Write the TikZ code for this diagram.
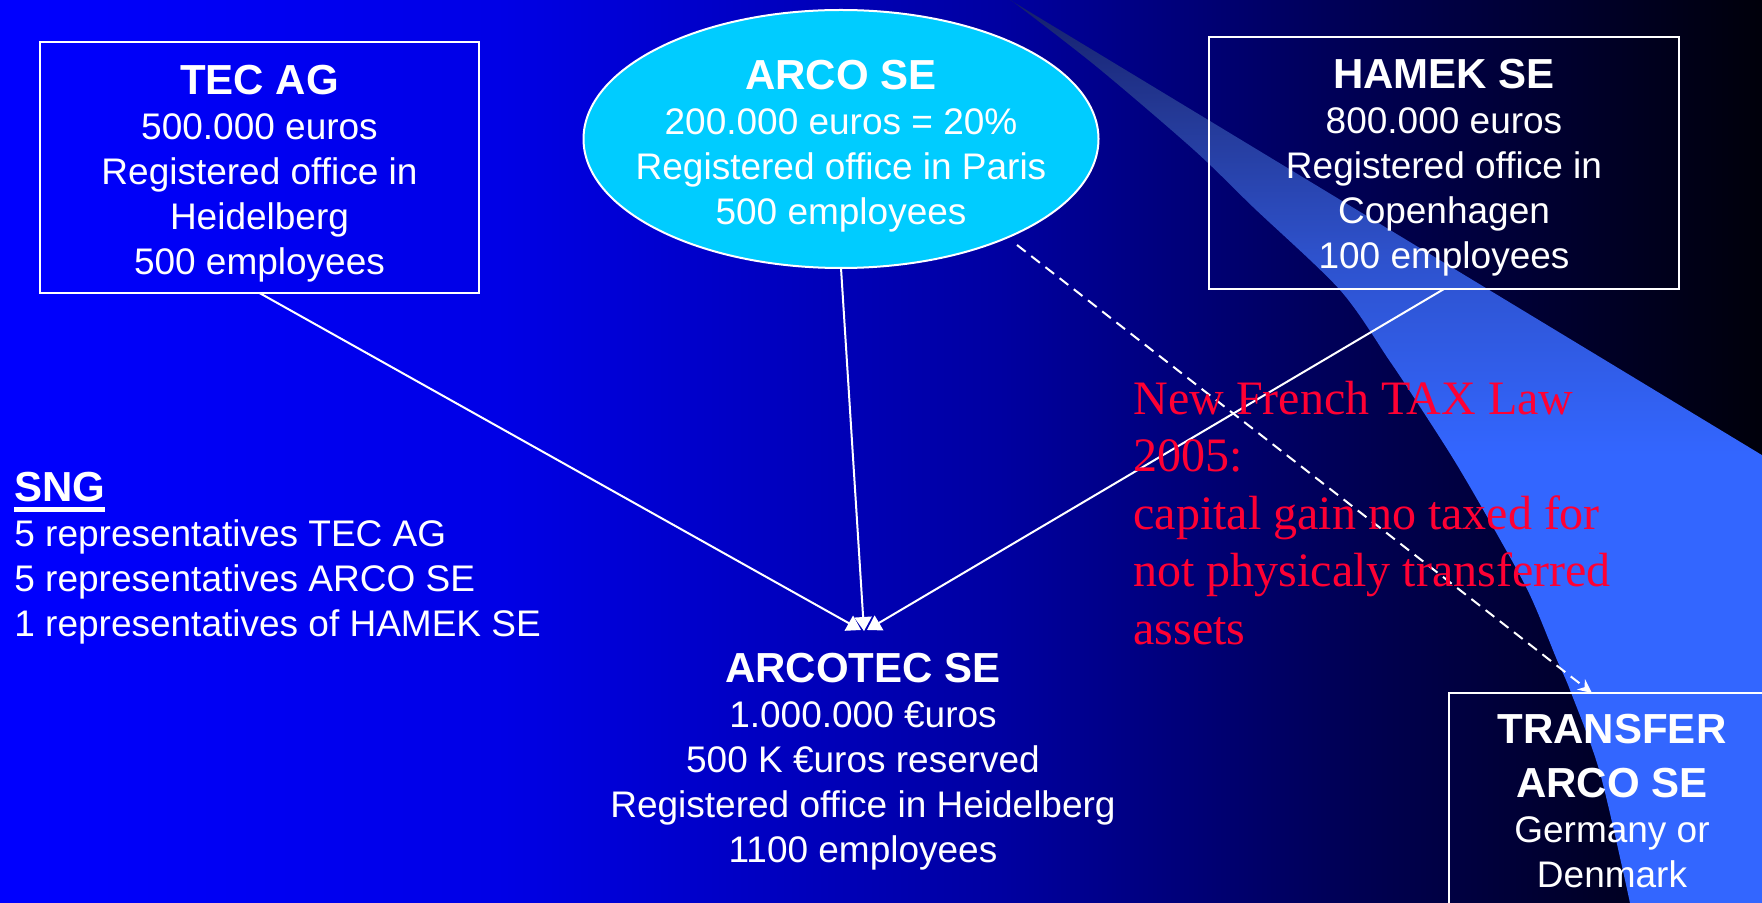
\documentclass[tikz,border=0pt]{standalone}
\usepackage{fontspec}
\setmainfont{Liberation Sans}
\newfontfamily\lawfont{Liberation Serif}
\usetikzlibrary{arrows.meta,shapes.geometric}

% slide background: bright blue on the left fading to black on the right
\pgfdeclarehorizontalshading{slidebg}{100bp}{
  rgb(0bp)=(0,0,1);
  rgb(25bp)=(0,0,1);
  rgb(39.2bp)=(0,0,0.9);
  rgb(53.4bp)=(0,0,0.63);
  rgb(63.3bp)=(0,0,0.33);
  rgb(75bp)=(0,0,0.04);
  rgb(100bp)=(0,0,0.04)}

% light beam: dim at its tip, light blue further down
\pgfdeclareverticalshading{beamshade}{100bp}{
  rgb(0bp)=(0.2,0.4,1);
  rgb(25bp)=(0.2,0.4,1);
  rgb(50bp)=(0.2,0.4,1);
  rgb(61bp)=(0.18,0.32,0.8);
  rgb(69bp)=(0.14,0.22,0.58);
  rgb(75bp)=(0.08,0.12,0.42);
  rgb(100bp)=(0.08,0.12,0.42)}

\definecolor{arcocyan}{RGB}{0,204,255}
\definecolor{lawred}{RGB}{255,0,51}

\newcommand\bodyfont{\fontsize{18.5pt}{22.5pt}\selectfont}
\newcommand\ttl{\bfseries\fontsize{21pt}{22.5pt}\selectfont}
\newcommand\thickul[1]{\setbox0=\hbox{#1}\rlap{\rule[-5pt]{\wd0}{2.5pt}}\box0}

\tikzset{
  frame/.style={draw=white, line width=1pt, inner sep=0pt, outer sep=0pt},
  label/.style={text=white, inner sep=0pt, align=center, font=\bodyfont},
  link/.style={draw=white, line width=1pt, -{Triangle[length=7pt,width=8.5pt]}},
  dashlink/.style={draw=white, line width=1pt, dash pattern=on 5.5pt off 3.5pt,
    -{Stealth[length=7pt,width=6.5pt]}}
}

\begin{document}
\begin{tikzpicture}[x=0.5pt,y=-0.5pt]
  \useasboundingbox (0,0) rectangle (1762,903);
  \clip (0,0) rectangle (1762,903);

  % background and beam
  \shade[shading=slidebg] (0,0) rectangle (1762,903);
  \shade[shading=beamshade] (1010,0) -- (1775,463) -- (1775,910) -- (1632,910)
    -- plot[smooth] coordinates {(1630,903) (1600,773) (1570,690) (1557,660)
      (1529,593) (1493,527) (1454,460) (1411,393) (1389,360) (1340,290)
      (1253,207) (1194,150) (1097,67) (1012,1)} -- cycle;

  % company boxes
  \node[frame, rectangle, minimum width=219.5pt, minimum height=125.5pt] (tec) at (259.5,167.5) {};
  \node[frame, ellipse, fill=arcocyan, minimum width=257.5pt, minimum height=129pt] (arco) at (841,139) {};
  \node[frame, rectangle, minimum width=235pt, minimum height=126pt] (hamek) at (1444,163) {};
  \node[frame, rectangle, minimum width=163pt, minimum height=121pt] (transfer) at (1612,814) {};

  % connectors
  \coordinate (hubleft) at (861,630);
  \coordinate (hubmid) at (864,631);
  \coordinate (hubright) at (867,630);
  \coordinate (dashfrom) at (1017,245);
  \coordinate (dashto) at (1592,693);
  \draw[link] (tec.south) -- (hubleft);
  \draw[link] (arco.south) -- (hubmid);
  \draw[link] (hamek.south) -- (hubright);
  \draw[dashlink] (dashfrom) -- (dashto);

  % texts
  \node[label, anchor=north] (tectext) at (259.5,65)
    {{\ttl TEC AG}\\500.000 euros\\Registered office in\\Heidelberg\\500 employees};
  \node[label, anchor=north] (arcotext) at (841,59.5)
    {{\ttl ARCO SE}\\200.000 euros = 20\%\\Registered office in Paris\\500 employees};
  \node[label, anchor=north] (hamektext) at (1444,59)
    {{\ttl HAMEK SE}\\800.000 euros\\Registered office in\\Copenhagen\\100 employees};
  \node[label, anchor=north] (arcotectext) at (863,653)
    {{\ttl ARCOTEC SE}\\1.000.000 €uros\\500 K €uros reserved\\Registered office in Heidelberg\\1100 employees};
  \node[label, anchor=north] (transfertext) at (1612,714)
    {{\ttl TRANSFER}\\[4.5pt]{\ttl ARCO SE}\\Germany or\\Denmark};
  \node[label, anchor=north west, align=left] (sng) at (14,472)
    {{\ttl\thickul{SNG}}\\5 representatives TEC AG\\5 representatives ARCO SE\\1 representatives of HAMEK SE};
  \node[inner sep=0pt, anchor=north west, align=left, text=lawred,
        font=\lawfont\fontsize{24pt}{28.75pt}\selectfont] (taxlaw) at (1133,380.5)
    {New French TAX Law\\2005:\\capital gain no taxed for\\not physicaly transferred\\assets};
\end{tikzpicture}
\end{document}
